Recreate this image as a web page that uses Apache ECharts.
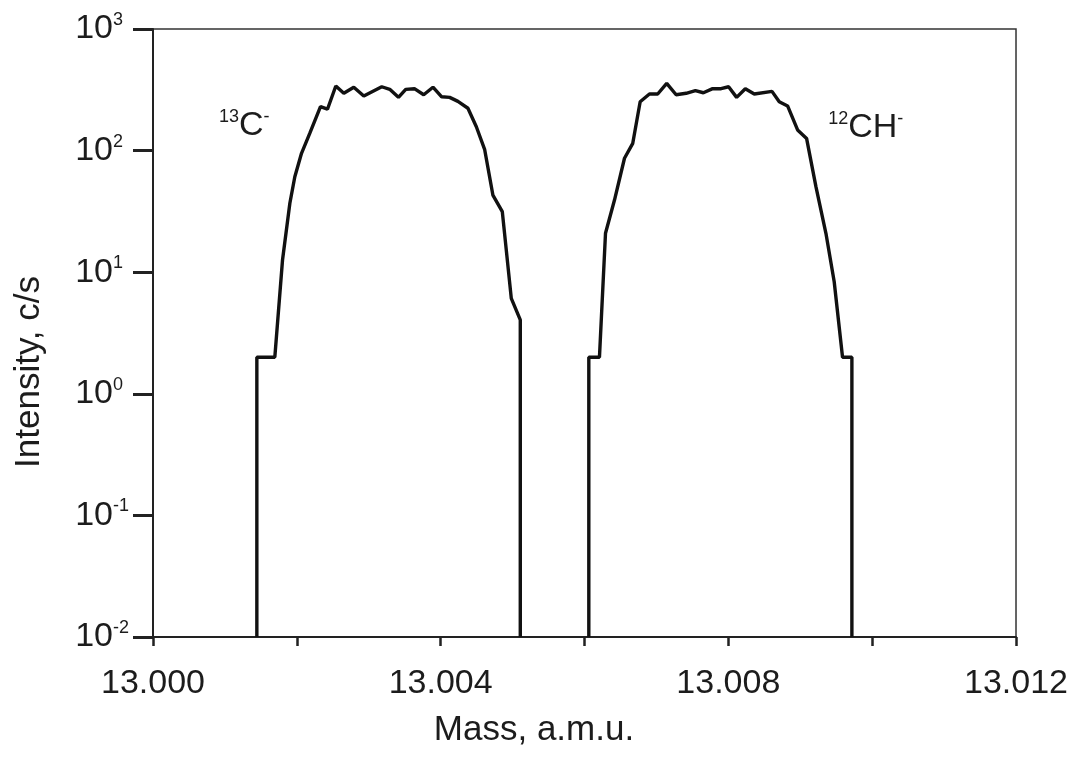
<!DOCTYPE html>
<html>
<head>
<meta charset="utf-8">
<title>Mass spectrum, 13C- and 12CH-</title>
<script src="https://cdn.jsdelivr.net/npm/echarts@6/dist/echarts.min.js"></script>
<style>
  html, body { margin: 0; padding: 0; background: #fff; }
  #chart { width: 1071px; height: 757px; }
</style>
</head>
<body>
<div id="chart"></div>
<script>
// Peak of 13C- : mass (a.m.u.) and intensity (c/s)
const massC13 = [
  13.001444, 13.001444, 13.001694, 13.001801, 13.001903, 13.001972, 13.002065,
  13.002181, 13.002329, 13.002426, 13.002542, 13.002653, 13.002792, 13.002931,
  13.003181, 13.003292, 13.003413, 13.003514, 13.003635, 13.003764, 13.003893,
  13.004014, 13.004125, 13.004240, 13.004379, 13.004496, 13.004611, 13.004726,
  13.004857, 13.004982, 13.005107, 13.005107
];
const intensityC13 = [
  0.01, 2, 2, 12.6, 36.9, 61, 95,
  139, 230, 219, 340, 296, 332, 281,
  335, 319, 274, 319, 323, 288, 332,
  277, 274, 254, 223, 157, 102.5, 43.1,
  31.5, 6.1, 4.05, 0.01
];

// Peak of 12CH- : mass (a.m.u.) and intensity (c/s)
const massCH12 = [
  13.006060, 13.006060, 13.006208, 13.006292, 13.006417, 13.006556, 13.006671,
  13.006774, 13.006903, 13.007018, 13.007143, 13.007274, 13.007413, 13.007542,
  13.007653, 13.007782, 13.007899, 13.008004, 13.008115, 13.008236, 13.008361,
  13.008607, 13.008708, 13.008824, 13.008963, 13.009088, 13.009218, 13.009357,
  13.009472, 13.009588, 13.009718, 13.009718
];
const intensityCH12 = [
  0.01, 2, 2, 20.9, 39.2, 86.5, 114.8,
  252, 292, 292, 357, 288, 296, 311,
  299, 323, 323, 335, 274, 323, 292,
  307, 252, 233, 148, 126, 50.5, 20.9,
  8.35, 2, 2, 0.01
];

// Axis ranges and ticks
const massMin = 13.000, massMax = 13.012, massStep = 0.004;
const intensityMin = 0.01, intensityMax = 1000;

// Peak annotations: [mass, intensity] of the top-left corner of each label
const peakLabels = [
  { isotope: '13', ion: 'C', pos: [13.000917, 222] },
  { isotope: '12', ion: 'CH', pos: [13.009389, 214] }
];

const FONT = "'Liberation Sans', Arial, Helvetica, sans-serif";
const INK = '#1c1c1c';

const zip = (xs, ys) => xs.map((x, i) => [x, ys[i]]);

// Decade label: "10" with a raised exponent; positive exponents get extra
// right padding so the "10" parts line up in one column
function decadeLabel(v) {
  const e = Math.round(Math.log10(v));
  return '{b|10}{' + (e < 0 ? 'sn' : 'sp') + '|' + e + '}';
}

const chart = echarts.init(document.getElementById('chart'), null, { renderer: 'canvas' });

chart.setOption({
  animation: false,
  backgroundColor: '#ffffff',
  grid: {
    left: 153, right: 54, top: 29, bottom: 120,
    show: true, borderColor: '#333', borderWidth: 1.5
  },
  xAxis: {
    type: 'value',
    min: massMin, max: massMax, interval: massStep,
    name: 'Mass, a.m.u.',
    nameLocation: 'middle',
    nameGap: 76,
    nameTextStyle: { fontFamily: FONT, fontSize: 35, color: INK, padding: [0, 101, 0, 0] },
    axisLine: { show: true, onZero: false, lineStyle: { color: '#222', width: 2 } },
    axisTick: { show: true, inside: false, length: 9, lineStyle: { color: '#222', width: 2.5 } },
    minorTick: { show: true, splitNumber: 2, length: 9, lineStyle: { color: '#222', width: 2.5 } },
    splitLine: { show: false },
    minorSplitLine: { show: false },
    axisLabel: {
      margin: 30,
      fontFamily: FONT, fontSize: 34, color: INK,
      formatter: v => v.toFixed(3)
    }
  },
  yAxis: {
    type: 'log', logBase: 10,
    min: intensityMin, max: intensityMax,
    name: 'Intensity, c/s',
    nameLocation: 'middle',
    nameGap: 106,
    nameTextStyle: { fontFamily: FONT, fontSize: 35, color: INK, padding: [0, 78, 0, 0] },
    axisLine: { show: true, onZero: false, lineStyle: { color: '#222', width: 2 } },
    axisTick: { show: true, inside: false, length: 20, lineStyle: { color: '#222', width: 3 } },
    splitLine: { show: false },
    axisLabel: {
      margin: 24,
      formatter: decadeLabel,
      rich: {
        b: { fontFamily: FONT, fontSize: 34, color: INK, lineHeight: 36 },
        sn: { fontFamily: FONT, fontSize: 18, color: INK, lineHeight: 18, verticalAlign: 'top' },
        sp: { fontFamily: FONT, fontSize: 18, color: INK, lineHeight: 18, verticalAlign: 'top',
              padding: [0, 6, 0, 0] }
      }
    }
  },
  series: [
    {
      name: '13C-',
      type: 'line',
      data: zip(massC13, intensityC13),
      showSymbol: false,
      lineStyle: { color: '#111', width: 3.4 },
      z: 3
    },
    {
      name: '12CH-',
      type: 'line',
      data: zip(massCH12, intensityCH12),
      showSymbol: false,
      lineStyle: { color: '#111', width: 3.4 },
      z: 3
    }
  ]
});

// Ion labels with superscript mass number and charge
chart.setOption({
  graphic: peakLabels.map(l => {
    const p = chart.convertToPixel({ gridIndex: 0 }, l.pos);
    return {
      type: 'text',
      x: p[0], y: p[1],
      z: 10,
      style: {
        text: '{s|' + l.isotope + '}{b|' + l.ion + '}{s|-}',
        align: 'left',
        verticalAlign: 'top',
        rich: {
          b: { fontFamily: FONT, fontSize: 34, fill: INK, lineHeight: 34 },
          s: { fontFamily: FONT, fontSize: 18, fill: INK, lineHeight: 18, verticalAlign: 'top' }
        }
      }
    };
  })
});
</script>
</body>
</html>
